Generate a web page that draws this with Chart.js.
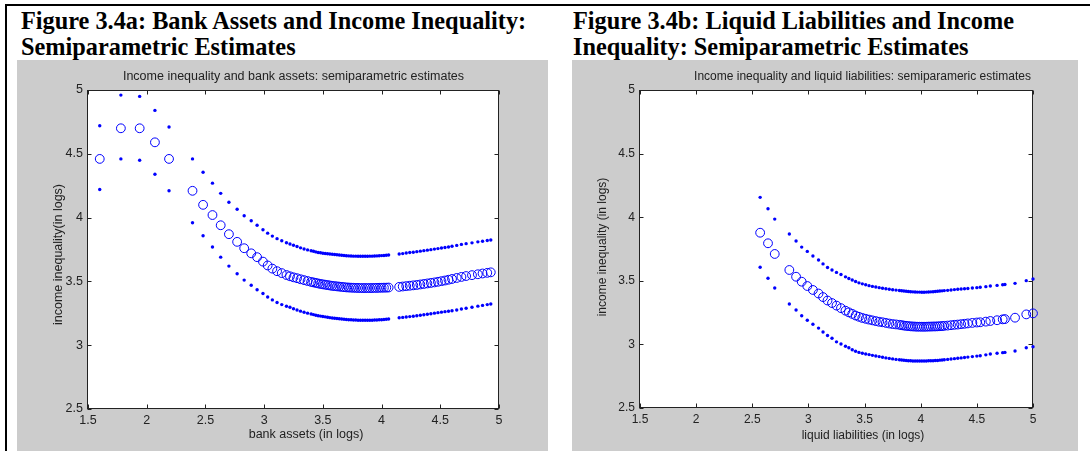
<!DOCTYPE html>
<html>
<head>
<meta charset="utf-8">
<script src="https://cdn.jsdelivr.net/npm/chart.js@4.4.1/dist/chart.umd.min.js"></script>
<style>
  html, body { margin: 0; padding: 0; background: #fff; }
  body { width: 1090px; height: 451px; position: relative; overflow: hidden; }
  .rule-top { position: absolute; left: 5px; top: 4px; width: 1085px; height: 2px; background: #000; }
  .rule-left { position: absolute; left: 5px; top: 4px; width: 2px; height: 447px; background: #000; }
  .cap { position: absolute; top: 8px; font-family: "Liberation Serif", "Times New Roman", serif;
         font-weight: bold; font-size: 24.3px; line-height: 26px; color: #000; white-space: nowrap; }
  .panel { position: absolute; top: 60px; height: 391px; background: #cccccc; }
</style>
</head>
<body>
<div class="rule-top"></div>
<div class="rule-left"></div>
<div class="cap" style="left:21px">Figure 3.4a: Bank Assets and Income Inequality:<br>Semiparametric Estimates</div>
<div class="cap" style="left:573px">Figure 3.4b: Liquid Liabilities and Income<br>Inequality: Semiparametric Estimates</div>
<div class="panel" style="left:17px;width:531px"><canvas id="bankChart"></canvas></div>
<div class="panel" style="left:572px;width:506px"><canvas id="liqChart"></canvas></div>

<script>
// bank assets panel (fig 3.4a)
const bankX = [1.60, 1.78, 1.94, 2.07, 2.19, 2.39, 2.48, 2.56, 2.63, 2.70, 2.77, 2.83, 2.89, 2.94, 2.99,
  3.03, 3.07, 3.11, 3.15, 3.19, 3.22, 3.25, 3.28, 3.31, 3.34, 3.37, 3.40, 3.42, 3.44, 3.46,
  3.48, 3.50, 3.52, 3.54, 3.56, 3.58, 3.60, 3.62, 3.64, 3.66, 3.68, 3.70, 3.72, 3.74, 3.76,
  3.78, 3.80, 3.82, 3.84, 3.86, 3.88, 3.90, 3.92, 3.94, 3.96, 3.98, 4.00, 4.02, 4.04, 4.06,
  4.15, 4.18, 4.21, 4.24, 4.27, 4.30, 4.33, 4.36, 4.39, 4.42, 4.45, 4.48, 4.51, 4.54, 4.57,
  4.60, 4.64, 4.68, 4.72, 4.77, 4.82, 4.86, 4.90, 4.93];
const bankFit = [4.46, 4.70, 4.70, 4.59, 4.46, 4.21, 4.10, 4.02, 3.94, 3.87, 3.81, 3.76, 3.72, 3.69, 3.655,
  3.625, 3.60, 3.58, 3.565, 3.55, 3.54, 3.532, 3.525, 3.517, 3.51, 3.503, 3.496, 3.492, 3.488, 3.484,
  3.480, 3.477, 3.474, 3.471, 3.468, 3.465, 3.463, 3.461, 3.459, 3.457, 3.455, 3.453, 3.452, 3.451, 3.450,
  3.449, 3.449, 3.448, 3.448, 3.448, 3.448, 3.448, 3.448, 3.449, 3.449, 3.450, 3.450, 3.451, 3.451, 3.452,
  3.457, 3.460, 3.463, 3.466, 3.469, 3.472, 3.476, 3.480, 3.484, 3.488, 3.492, 3.497, 3.502, 3.507, 3.513,
  3.519, 3.527, 3.535, 3.542, 3.549, 3.556, 3.562, 3.567, 3.571];
const bankUpper = [4.72, 4.96, 4.95, 4.84, 4.71, 4.46, 4.355, 4.27, 4.19, 4.12, 4.065, 4.015, 3.975, 3.94, 3.905,
  3.878, 3.855, 3.835, 3.818, 3.803, 3.793, 3.783, 3.773, 3.763, 3.754, 3.747, 3.740, 3.736, 3.731, 3.727,
  3.724, 3.721, 3.719, 3.717, 3.715, 3.713, 3.711, 3.709, 3.707, 3.705, 3.703, 3.701, 3.700, 3.699, 3.698,
  3.698, 3.697, 3.697, 3.697, 3.697, 3.697, 3.698, 3.698, 3.699, 3.700, 3.701, 3.702, 3.703, 3.705, 3.707,
  3.715, 3.718, 3.722, 3.726, 3.729, 3.733, 3.737, 3.741, 3.745, 3.749, 3.753, 3.757, 3.762, 3.766, 3.770,
  3.775, 3.782, 3.790, 3.796, 3.802, 3.810, 3.815, 3.820, 3.824];
const bankLower = [4.22, 4.46, 4.45, 4.34, 4.21, 3.96, 3.858, 3.77, 3.69, 3.62, 3.56, 3.51, 3.47, 3.435, 3.405,
  3.378, 3.355, 3.335, 3.318, 3.305, 3.297, 3.286, 3.276, 3.267, 3.258, 3.251, 3.244, 3.240, 3.235, 3.231,
  3.228, 3.225, 3.222, 3.219, 3.216, 3.213, 3.211, 3.209, 3.207, 3.205, 3.203, 3.201, 3.200, 3.199, 3.198,
  3.197, 3.196, 3.195, 3.195, 3.195, 3.195, 3.196, 3.196, 3.197, 3.198, 3.199, 3.200, 3.201, 3.203, 3.205,
  3.215, 3.218, 3.221, 3.224, 3.227, 3.231, 3.235, 3.239, 3.243, 3.247, 3.251, 3.255, 3.259, 3.263, 3.266,
  3.270, 3.276, 3.284, 3.290, 3.297, 3.306, 3.312, 3.318, 3.323];

// liquid liabilities panel (fig 3.4b)
const liqX = [2.57, 2.64, 2.70, 2.83, 2.89, 2.94, 2.99, 3.04, 3.09, 3.13, 3.17, 3.21, 3.25,
  3.29, 3.33, 3.36, 3.39, 3.42, 3.45, 3.48, 3.51, 3.54, 3.57, 3.60, 3.63, 3.66, 3.69, 3.72, 3.75,
  3.78, 3.81, 3.83, 3.85, 3.87, 3.89, 3.91, 3.93, 3.95, 3.97, 3.99, 4.01, 4.03, 4.05, 4.07, 4.09,
  4.11, 4.13, 4.15, 4.17, 4.19, 4.21, 4.24, 4.27, 4.30, 4.33, 4.36, 4.39, 4.42, 4.46, 4.50, 4.53,
  4.58, 4.62, 4.68, 4.73, 4.75, 4.84, 4.94, 5.00];
const liqFit = [3.878, 3.795, 3.711, 3.585, 3.532, 3.493, 3.459, 3.428, 3.40, 3.372, 3.345, 3.325, 3.305,
  3.285, 3.265, 3.252, 3.24, 3.227, 3.217, 3.208, 3.201, 3.195, 3.189, 3.183, 3.178, 3.174, 3.169, 3.164, 3.160,
  3.157, 3.154, 3.151, 3.148, 3.146, 3.144, 3.142, 3.141, 3.140, 3.139, 3.139, 3.139, 3.139, 3.139, 3.140, 3.140,
  3.141, 3.141, 3.142, 3.143, 3.144, 3.146, 3.148, 3.151, 3.154, 3.156, 3.159, 3.162, 3.165, 3.169, 3.172, 3.174,
  3.179, 3.184, 3.190, 3.197, 3.199, 3.210, 3.236, 3.244];
const liqUpper = [4.156, 4.067, 3.985, 3.868, 3.813, 3.765, 3.731, 3.695, 3.664, 3.633, 3.605, 3.585, 3.566,
  3.549, 3.531, 3.518, 3.506, 3.494, 3.484, 3.476, 3.469, 3.462, 3.456, 3.451, 3.446, 3.442, 3.438, 3.434, 3.430,
  3.427, 3.424, 3.422, 3.420, 3.418, 3.416, 3.414, 3.413, 3.412, 3.411, 3.411, 3.410, 3.410, 3.411, 3.412, 3.413,
  3.414, 3.416, 3.418, 3.420, 3.421, 3.423, 3.425, 3.428, 3.431, 3.433, 3.435, 3.437, 3.440, 3.443, 3.446, 3.449,
  3.454, 3.459, 3.464, 3.469, 3.471, 3.480, 3.501, 3.514];
const liqLower = [3.606, 3.52, 3.443, 3.318, 3.27, 3.225, 3.19, 3.158, 3.128, 3.098, 3.07, 3.048, 3.02,
  3.003, 2.985, 2.974, 2.958, 2.946, 2.937, 2.93, 2.925, 2.92, 2.914, 2.909, 2.904, 2.899, 2.894, 2.89, 2.886,
  2.882, 2.879, 2.877, 2.875, 2.873, 2.872, 2.871, 2.870, 2.869, 2.869, 2.869, 2.869, 2.870, 2.870, 2.871, 2.872,
  2.872, 2.873, 2.874, 2.876, 2.877, 2.879, 2.882, 2.885, 2.888, 2.891, 2.894, 2.897, 2.9, 2.904, 2.908, 2.911,
  2.918, 2.925, 2.930, 2.935, 2.937, 2.948, 2.974, 2.982];

const BLUE = "#0000ff";
const INK = "#222";
const FONT = "'Liberation Sans', Arial, sans-serif";

Chart.defaults.color = INK;
Chart.defaults.font.family = FONT;

// white axes area, box + inward ticks like matlab
const matlabAxes = {
  id: "matlabAxes",
  beforeDraw(chart) {
    const { ctx, chartArea: a } = chart;
    ctx.save();
    ctx.fillStyle = "#fff";
    ctx.fillRect(a.left, a.top, a.right - a.left, a.bottom - a.top);
    ctx.restore();
  },
  beforeDatasetsDraw(chart) {
    const { ctx, chartArea: a, scales } = chart;
    const L = Math.round(a.left) - 0.5, R = Math.round(a.right) - 0.5;
    const T = Math.round(a.top) + 0.5, B = Math.round(a.bottom) - 0.5;
    const len = 4;
    ctx.save();
    ctx.strokeStyle = INK;
    ctx.lineWidth = 1;
    ctx.strokeRect(L, T, R - L, B - T);
    ctx.beginPath();
    scales.x.ticks.forEach(t => {
      const px = Math.round(scales.x.getPixelForValue(t.value)) + 0.5;
      ctx.moveTo(px, B); ctx.lineTo(px, B - len);
      ctx.moveTo(px, T); ctx.lineTo(px, T + len);
    });
    scales.y.ticks.forEach(t => {
      const py = Math.round(scales.y.getPixelForValue(t.value)) + 0.5;
      ctx.moveTo(L, py); ctx.lineTo(L + len, py);
      ctx.moveTo(R, py); ctx.lineTo(R - len, py);
    });
    ctx.stroke();
    ctx.restore();
  }
};

// title + axis labels, placed off the axes box like the matlab export
const axisText = {
  id: "axisText",
  afterDraw(chart, args, o) {
    const { ctx, chartArea: a } = chart;
    const cx = (a.left + a.right) / 2, cy = (a.top + a.bottom) / 2;
    ctx.save();
    ctx.fillStyle = INK;
    ctx.textAlign = "center";
    ctx.textBaseline = "middle";
    ctx.font = o.titleSize + "px " + FONT;
    ctx.fillText(o.title, cx + o.titleDx, a.top - 13);
    ctx.font = o.labelSize + "px " + FONT;
    ctx.fillText(o.xLabel, cx + o.xLabelDx, a.bottom + o.xLabelDy);
    ctx.translate(a.left - o.yLabelDx, cy + o.yLabelDy);
    ctx.rotate(-Math.PI / 2);
    ctx.fillText(o.yLabel, 0, 0);
    ctx.restore();
  }
};

function pts(xs, ys) {
  return xs.map((x, i) => ({ x, y: ys[i] }));
}

function makeChart(id, cfg) {
  return new Chart(document.getElementById(id), {
    type: "scatter",
    data: {
      datasets: [
        { label: "upper", data: pts(cfg.x, cfg.upper), pointRadius: 1.7, pointBackgroundColor: BLUE, pointBorderWidth: 0 },
        { label: "estimate", data: pts(cfg.x, cfg.fit), pointRadius: 4.4, pointBackgroundColor: "transparent",
          pointBorderColor: BLUE, pointBorderWidth: 1 },
        { label: "lower", data: pts(cfg.x, cfg.lower), pointRadius: 1.7, pointBackgroundColor: BLUE, pointBorderWidth: 0 }
      ]
    },
    options: {
      responsive: true,
      maintainAspectRatio: false,
      animation: false,
      clip: false,
      layout: { padding: { top: 30, right: cfg.padRight, left: 0, bottom: 0 } },
      plugins: {
        legend: { display: false },
        tooltip: { enabled: false },
        title: { display: false },
        axisText: cfg.text
      },
      scales: {
        x: {
          type: "linear",
          min: 1.5, max: 5,
          grid: { display: false, drawTicks: false },
          border: { display: false },
          ticks: { stepSize: 0.5, padding: 4, font: { size: cfg.tickSize }, color: INK, callback: v => String(v) },
          afterFit: s => { s.height = cfg.xHeight; }
        },
        y: {
          min: 2.5, max: 5,
          grid: { display: false, drawTicks: false },
          border: { display: false },
          ticks: { stepSize: 0.5, padding: 5, font: { size: cfg.tickSize }, color: INK, callback: v => String(v) },
          afterFit: s => { s.width = cfg.yWidth; }
        }
      }
    },
    plugins: [matlabAxes, axisText]
  });
}

makeChart("bankChart", {
  x: bankX, fit: bankFit, upper: bankUpper, lower: bankLower,
  padRight: 49, yWidth: 71, xHeight: 42, tickSize: 12.5,
  text: {
    title: "Income inequality and bank assets: semiparametric estimates",
    xLabel: "bank assets (in logs)",
    yLabel: "income inequality(in logs)",
    titleSize: 12.5, labelSize: 12.5,
    titleDx: 0, xLabelDx: 12.5, xLabelDy: 26, yLabelDx: 29, yLabelDy: 5
  }
});

makeChart("liqChart", {
  x: liqX, fit: liqFit, upper: liqUpper, lower: liqLower,
  padRight: 45, yWidth: 68, xHeight: 43, tickSize: 12,
  text: {
    title: "Income inequality and liquid liabilities: semiparameric estimates",
    xLabel: "liquid liabilities (in logs)",
    yLabel: "income inequality (in logs)",
    titleSize: 12, labelSize: 12,
    titleDx: 26, xLabelDx: 26.5, xLabelDy: 28, yLabelDx: 37, yLabelDy: -2
  }
});
</script>
</body>
</html>
